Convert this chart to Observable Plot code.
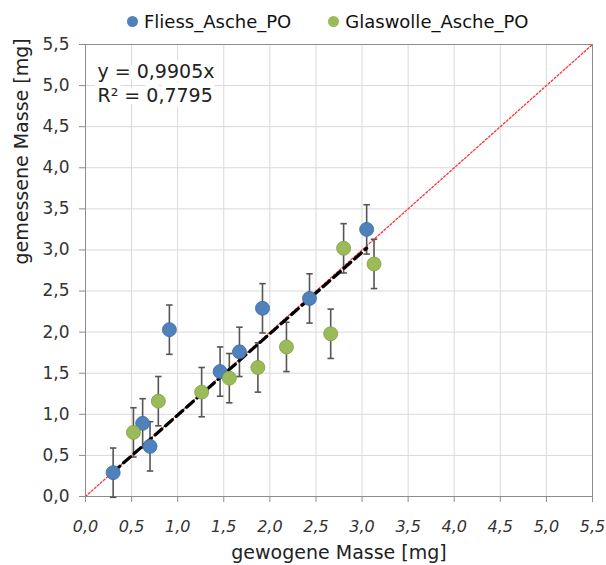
<!DOCTYPE html>
<html><head><meta charset="utf-8">
<script src="https://cdn.jsdelivr.net/npm/d3@7"></script>
<script src="https://cdn.jsdelivr.net/npm/@observablehq/plot@0.6"></script>
<style>
body{margin:0;background:#fff;font-family:"DejaVu Sans",sans-serif;}
#legend{height:30px;padding-top:12px;display:flex;align-items:center;font-size:18px;color:#111;padding-left:127px;box-sizing:border-box;}
#legend .item{display:flex;align-items:center;margin-right:37px;}
#legend .sw{width:11px;height:11px;border-radius:50%;margin-right:6px;}
</style></head><body>
<div id="legend"></div>
<div id="chart"></div>
<script>
const seriesNames = ["Fliess_Asche_PO", "Glaswolle_Asche_PO"];
const seriesColors = ["#4F81BD", "#9BBB59"];
const seriesStroke = ["#3B6AA3", "#7E9E45"];
const fliessX = [0.30, 0.62, 0.70, 0.91, 1.46, 1.67, 1.92, 2.43, 3.05];
const fliessY = [0.29, 0.89, 0.61, 2.03, 1.52, 1.76, 2.29, 2.41, 3.25];
const glasX = [0.52, 0.79, 1.26, 1.56, 1.87, 2.18, 2.66, 2.80, 3.13];
const glasY = [0.78, 1.16, 1.27, 1.44, 1.57, 1.82, 1.98, 3.02, 2.83];
const errorValue = 0.3;
const slope = 0.9905;
const rSquared = 0.7795;
const trendRange = [0.30, 3.05];
const identityRange = [0, 5.5];
const ticks = [0,0.5,1,1.5,2,2.5,3,3.5,4,4.5,5,5.5];
const xTitle = "gewogene Masse [mg]";
const yTitle = "gemessene Masse [mg]";

const fmt = v => v.toFixed(1).replace(".", ",");
const rows = [
  ...fliessX.map((x,i)=>({x, y: fliessY[i], s: 0})),
  ...glasX.map((x,i)=>({x, y: glasY[i], s: 1}))
];
const trend = trendRange.map(x => ({x, y: slope * x}));
const identity = identityRange.map(x => ({x, y: x}));
const capW = 0.035;

const legend = document.getElementById("legend");
seriesNames.forEach((n,i)=>{
  const it = document.createElement("div"); it.className="item";
  it.innerHTML = `<span class="sw" style="background:${seriesColors[i]}"></span><span>${n}</span>`;
  legend.appendChild(it);
});

const eqText = `y = ${slope.toString().replace(".", ",")}x\nR² = ${rSquared.toString().replace(".", ",")}`;
const FONT = '"DejaVu Sans", sans-serif';

const chart = Plot.plot({
  width: 606, height: 535,
  marginLeft: 85, marginRight: 14, marginTop: 14, marginBottom: 69,
  style: {fontFamily: FONT, color: "#333", background: "#fff"},
  x: {domain: [0, 5.5], ticks},
  y: {domain: [0, 5.5], ticks},
  marks: [
    Plot.gridX(ticks, {stroke: "#d9d9d9", strokeOpacity: 1}),
    Plot.gridY(ticks, {stroke: "#d9d9d9", strokeOpacity: 1}),
    Plot.frame({stroke: "#8c8c8c"}),
    Plot.text([eqText], {frameAnchor: "top-left", dx: 12, dy: 16, textAnchor: "start", lineAnchor: "top", fontSize: 19, fill: "#222", stroke: "white", strokeWidth: 10, lineHeight: 1.29}),
    Plot.line(identity, {x: "x", y: "y", stroke: "#ff3333", strokeWidth: 1.3, strokeDasharray: "2,2"}),
    Plot.link(rows, {x1: "x", x2: "x", y1: d => d.y - errorValue, y2: d => d.y + errorValue, stroke: "#555", strokeWidth: 1.6}),
    Plot.link(rows, {x1: d => d.x - capW, x2: d => d.x + capW, y1: d => d.y + errorValue, y2: d => d.y + errorValue, stroke: "#555", strokeWidth: 1.6}),
    Plot.link(rows, {x1: d => d.x - capW, x2: d => d.x + capW, y1: d => d.y - errorValue, y2: d => d.y - errorValue, stroke: "#555", strokeWidth: 1.6}),
    Plot.line(trend, {x: "x", y: "y", stroke: "#000", strokeWidth: 3.2, strokeDasharray: "9,5"}),
    Plot.dot(rows, {x: "x", y: "y", r: 7, fill: d => seriesColors[d.s], stroke: d => seriesStroke[d.s], strokeWidth: 0.8}),
    Plot.axisX(ticks, {tickFormat: fmt, tickSize: 6, tickPadding: 18, fontSize: 16, fontStyle: "italic", stroke: "#8c8c8c", fill: "#333", label: null}),
    Plot.axisY(ticks, {tickFormat: fmt, tickSize: 6, tickPadding: 10, fontSize: 17, stroke: "#8c8c8c", fill: "#333", label: null}),
    Plot.text([xTitle], {frameAnchor: "bottom", lineAnchor: "middle", dy: 56, fontSize: 19, fill: "#222"}),
    Plot.text([yTitle], {frameAnchor: "left", lineAnchor: "middle", rotate: -90, dx: -64, dy: -6, fontSize: 19, fill: "#222"})
  ]
});
document.getElementById("chart").appendChild(chart);
</script>
</body></html>
